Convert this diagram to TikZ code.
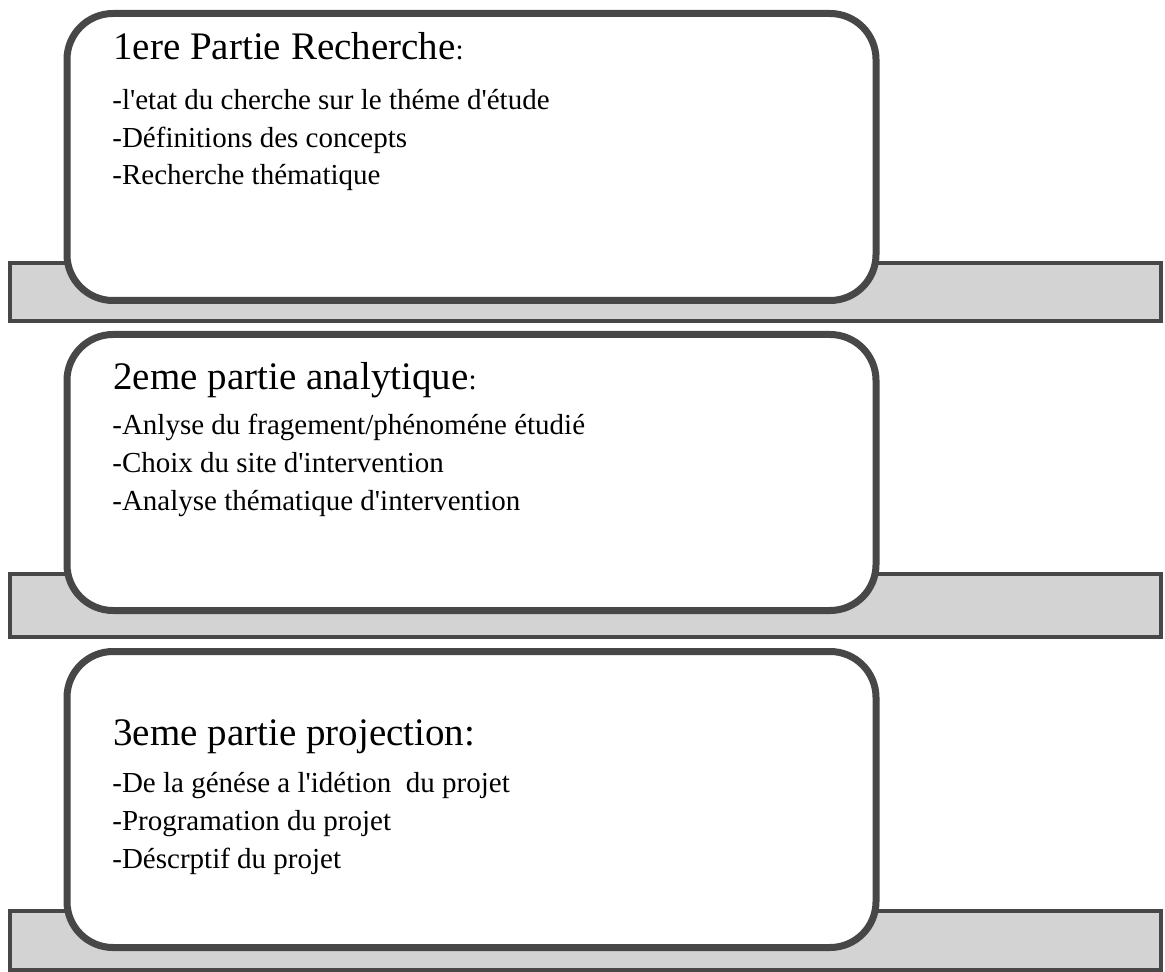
\documentclass[tikz,border=0pt]{standalone}
\usepackage{fontspec}
\setmainfont{Liberation Serif}[Ligatures=TeXOff]
\usepackage{tikz}
\usetikzlibrary{shadows}

\definecolor{bordgris}{HTML}{474747}
\definecolor{fondgris}{HTML}{D3D3D3}
\newcommand{\petitdp}{{\fontsize{14.5}{17}\selectfont:}}

\tikzset{
  barre/.style={draw=bordgris, fill=fondgris, line width=2pt},
  carte/.style={draw=bordgris, fill=white, line width=3.5pt, rounded corners=23pt,
    drop shadow={shadow xshift=1.2pt, shadow yshift=-1.4pt, opacity=0.18}},
  titre/.style={anchor=base west, inner sep=0pt, font=\fontsize{19.5}{23}\selectfont},
  ligne/.style={anchor=base west, inner sep=0pt, font=\fontsize{14.5}{17}\selectfont}
}

\begin{document}
\begin{tikzpicture}[x=0.5pt,y=-0.5pt]
\useasboundingbox (0,0) rectangle (1165,972);

% 1ere partie
\draw[barre] (10,263) rectangle (1161,321);
\draw[carte] (67,13.5) rectangle (876,300.5);
\node[titre] (titre1) at (113,60) {1ere Partie Recherche\petitdp};
\node[ligne] (l11) at (112,110) {-l'etat du cherche sur le théme d'étude};
\node[ligne] (l12) at (112,148) {-Définitions des concepts};
\node[ligne] (l13) at (112,185) {-Recherche thématique};

% 2eme partie
\draw[barre] (10,574) rectangle (1161,637);
\draw[carte] (67,334.5) rectangle (876,610.5);
\node[titre] (titre2) at (113,390) {2eme partie analytique\petitdp};
\node[ligne] (l21) at (112,435) {-Anlyse du fragement/phénoméne étudié};
\node[ligne] (l22) at (112,472) {-Choix du site d'intervention};
\node[ligne] (l23) at (112,510) {-Analyse thématique d'intervention};

% 3eme partie
\draw[barre] (10,911) rectangle (1161,970);
\draw[carte] (67,651.5) rectangle (876,947.5);
\node[titre] (titre3) at (113,745) {3eme partie projection:};
\node[ligne] (l31) at (112,792) {-De la génése a l'idétion\ \ du projet};
\node[ligne] (l32) at (112,830) {-Programation du projet};
\node[ligne] (l33) at (112,868) {-Déscrptif du projet};

\end{tikzpicture}
\end{document}
